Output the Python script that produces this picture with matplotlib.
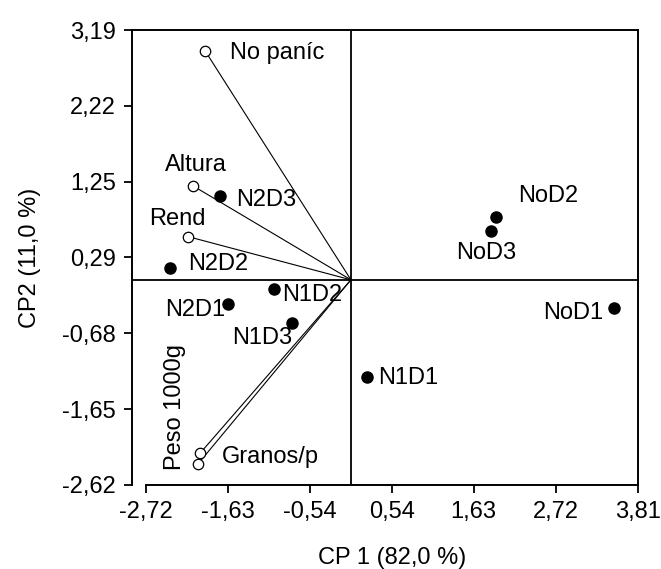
import matplotlib
matplotlib.use("Agg")
import matplotlib.pyplot as plt

plt.rcParams['font.family'] = ['Liberation Sans', 'DejaVu Sans']

# Variable vectors (open circles)
var_names = ["No paníc", "Altura", "Rend", "Granos/p", "Peso 1000g"]
var_x = [-1.937, -2.100, -2.159, -2.003, -2.034]
var_y = [2.926, 1.202, 0.551, -2.215, -2.356]

# Treatments (filled dots)
trt_names = ["N2D3", "N2D2", "N1D2", "N2D1", "N1D3", "N1D1", "NoD2", "NoD3", "NoD1"]
trt_x = [-1.738, -2.401, -1.021, -1.628, -0.778, 0.209, 1.925, 1.859, 3.496]
trt_y = [1.074, 0.147, -0.121, -0.309, -0.555, -1.245, 0.798, 0.627, -0.364]

xticks = [-2.72, -1.63, -0.54, 0.54, 1.63, 2.72, 3.81]
yticks = [-2.62, -1.65, -0.68, 0.29, 1.25, 2.22, 3.19]
xtick_labels = ["-2,72", "-1,63", "-0,54", "0,54", "1,63", "2,72", "3,81"]
ytick_labels = ["-2,62", "-1,65", "-0,68", "0,29", "1,25", "2,22", "3,19"]

# label placement (offset pixels, ha, va, rotation)
var_lab = {
    "No paníc": (25, -2, 'left', 'center', 0),
    "Altura": (3, 21, 'center', 'center', 0),
    "Rend": (-11, 18, 'center', 'center', 0),
    "Granos/p": (22, -4, 'left', 'center', 0),
    "Peso 1000g": (-23, 57, 'center', 'center', 90),
}
trt_lab = {
    "N2D3": (16, -4, 'left', 'center'),
    "N2D2": (18, 4, 'left', 'center'),
    "N1D2": (8, -6, 'left', 'center'),
    "N2D1": (-3, -6, 'right', 'center'),
    "N1D3": (0, -15, 'right', 'center'),
    "N1D1": (11, -1, 'left', 'center'),
    "NoD2": (22, 21, 'left', 'center'),
    "NoD3": (-5, -22, 'center', 'center'),
    "NoD1": (-11, -5, 'right', 'center'),
}

fs = 17
fig = plt.figure(figsize=(6.61, 5.69), dpi=100)
ax = fig.add_axes([132/661, 1-485/569, (638-132)/661, (485-30)/569])
xleft = -2.72 - 14/492*(3.81+2.72)
ax.set_xlim(xleft, 3.81)
ax.set_ylim(-2.62, 3.19)

ax.axhline(0, color='black', lw=1.3, zorder=1)
ax.axvline(0, color='black', lw=1.3, zorder=1)

for n, x, y in zip(var_names, var_x, var_y):
    ax.plot([0, x], [0, y], color='black', lw=0.8, zorder=2)
ax.plot(var_x, var_y, 'o', ms=7.5, mfc='white', mec='black', mew=0.9, ls='none', zorder=3)
ax.plot(trt_x, trt_y, 'o', ms=8, color='black', ls='none', zorder=3)

for n, x, y in zip(var_names, var_x, var_y):
    dx, dy, ha, va, rot = var_lab[n]
    ax.annotate(n, (x, y), xytext=(dx, dy), textcoords='offset pixels',
                ha=ha, va=va, rotation=rot, fontsize=fs)
for n, x, y in zip(trt_names, trt_x, trt_y):
    dx, dy, ha, va = trt_lab[n]
    ax.annotate(n, (x, y), xytext=(dx, dy), textcoords='offset pixels',
                ha=ha, va=va, fontsize=fs)

ax.set_xticks(xticks)
ax.set_xticklabels(xtick_labels, fontsize=fs)
ax.set_yticks(yticks)
ax.set_yticklabels(ytick_labels, fontsize=fs)
ax.tick_params(direction='out', length=6, width=1.3)
ax.tick_params(axis='x', pad=5.4)
ax.tick_params(axis='y', pad=5.5)
ax.spines['bottom'].set_bounds(-2.72, 3.81)
for s in ax.spines.values():
    s.set_linewidth(1.4)

ax.set_xlabel("CP 1 (82,0 %)", fontsize=fs, va='center')
ax.xaxis.set_label_coords((392-132)/506, -(558-485)/455)
ax.set_ylabel("CP2 (11,0 %)", fontsize=fs, va='center')
ax.yaxis.set_label_coords((30-132)/506, 0.5)

fig.savefig("out.png", dpi=100)
